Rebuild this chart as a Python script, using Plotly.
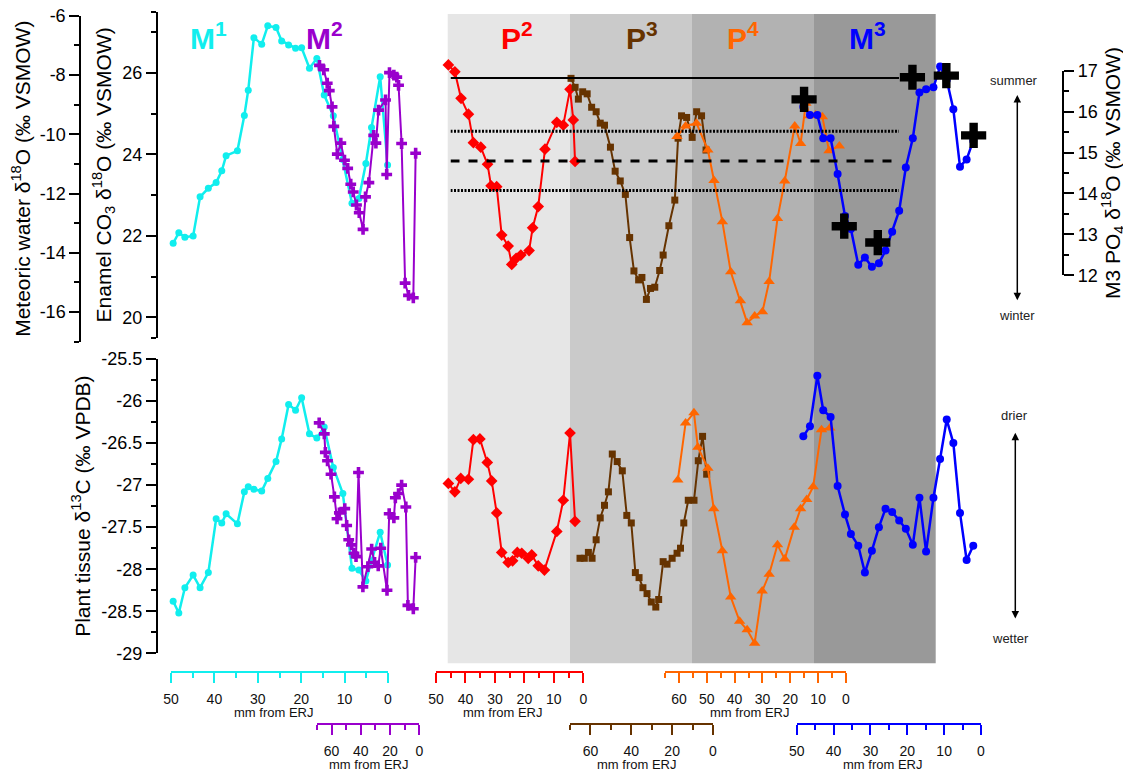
import plotly.graph_objects as go

# ---------------- data ----------------
m1_mm = [49.5, 48.2, 46.8, 44.9, 43.3, 41.4, 39.6, 38.3, 37.3, 34.7, 33.1, 32.2, 30.9, 29.1, 27.7, 25.8,
         24.5, 22.9, 21.3, 19.9, 18.1, 16.4, 14.7, 12.6, 10.4, 8.3, 6.7, 5.1, 3.8, 1.8, 0.1]
m1_d18o = [21.82, 22.08, 21.97, 22.00, 22.96, 23.17, 23.31, 23.60, 23.97, 24.09, 24.96, 25.58, 26.87, 26.71,
           27.16, 27.12, 26.79, 26.69, 26.61, 26.62, 26.12, 26.36, 25.46, 24.95, 23.88, 22.80, 22.92, 23.78,
           24.66, 25.91, 23.74]
m1_d13c = [-28.38, -28.52, -28.22, -28.07, -28.22, -28.04, -27.40, -27.45, -27.34, -27.46, -27.08, -27.02,
           -27.05, -27.07, -26.92, -26.72, -26.45, -26.04, -26.11, -25.96, -26.39, -26.44, -26.31, -26.79,
           -27.10, -27.99, -28.01, -28.14, -27.90, -27.56, -27.95]

m2_mm_o = [68.3, 65.4, 63.0, 61.6, 59.7, 58.5, 56.1, 53.7, 51.2, 49.0, 46.9, 45.2, 43.0, 41.1, 38.5, 36.8,
           34.5, 31.2, 29.7, 27.9, 23.1, 22.3, 20.4, 17.4, 15.4, 14.2, 12.1, 9.7, 7.4, 4.1, 2.5]
m2_d18o = [26.19, 26.08, 25.75, 25.57, 25.17, 24.69, 24.01, 24.28, 23.86, 23.66, 23.27, 23.08, 22.76, 22.57,
           22.16, 22.96, 23.31, 24.47, 24.28, 25.09, 25.34, 23.51, 26.01, 25.95, 25.90, 25.70, 24.27, 20.84,
           20.54, 20.48, 24.03]
m2_mm_c = [68.5, 65.0, 64.3, 62.8, 60.4, 58.1, 56.3, 54.7, 51.0, 49.7, 48.3, 46.4, 44.7, 43.3, 41.6, 38.6,
           35.2, 32.6, 30.6, 28.1, 26.4, 22.1, 20.6, 17.4, 16.4, 14.2, 12.1, 9.2, 7.8, 4.1, 2.5]
m2_d13c = [-26.26, -26.39, -26.61, -26.71, -26.87, -27.14, -27.40, -27.33, -27.28, -27.48, -27.65, -27.71,
           -27.81, -27.85, -26.85, -28.21, -27.97, -27.76, -27.92, -27.96, -27.75, -28.25, -27.34, -27.39,
           -27.15, -27.10, -27.00, -27.26, -28.43, -28.47, -27.86]

p2_mm_o = [45.8, 43.6, 41.5, 39.0, 37.3, 34.8, 32.5, 31.3, 29.4, 27.7, 25.5, 24.3, 22.8, 21.2, 18.4, 17.2,
           15.3, 13.0, 9.0, 6.8, 4.5, 3.4, 2.8]
p2_d18o = [26.20, 26.03, 25.38, 24.99, 24.29, 24.18, 23.76, 23.23, 23.21, 22.02, 21.75, 21.30, 21.45, 21.53,
           21.64, 22.20, 22.72, 24.13, 24.79, 24.72, 25.60, 24.85, 23.83]
p2_mm_c = [45.8, 43.6, 41.6, 39.0, 37.3, 35.1, 32.6, 31.1, 29.4, 27.7, 25.5, 24.0, 22.4, 20.9, 18.7, 17.5,
           15.3, 13.2, 9.0, 6.8, 4.5, 2.8]
p2_d13c = [-26.98, -27.08, -26.92, -26.93, -26.46, -26.45, -26.73, -26.95, -27.33, -27.80, -27.92, -27.90,
           -27.80, -27.81, -27.87, -27.83, -27.96, -28.01, -27.55, -27.18, -26.38, -27.43]

p3_mm_o = [69.5, 67.5, 65.9, 63.8, 61.6, 59.4, 57.2, 55.2, 53.1, 50.2, 47.9, 45.4, 42.9, 40.8, 38.7, 36.4,
           34.8, 32.6, 30.6, 28.5, 26.1, 24.4, 21.6, 18.7, 17.1, 15.4, 12.9, 10.2, 8.0, 5.6, 3.4]
p3_d18o = [25.87, 25.65, 25.36, 25.54, 25.49, 25.16, 25.05, 24.77, 24.72, 24.18, 23.59, 23.35, 23.02, 21.96,
           21.14, 20.92, 20.98, 20.44, 20.71, 20.74, 21.15, 21.53, 22.25, 22.88, 24.40, 24.95, 24.91, 24.42,
           25.05, 24.95, 24.11]
p3_mm_c = [65.1, 63.0, 61.0, 59.2, 57.2, 55.2, 53.1, 51.2, 49.3, 46.9, 44.4, 42.2, 40.0, 38.0, 36.2, 34.3,
           32.3, 30.2, 28.0, 26.6, 24.4, 22.5, 20.0, 17.6, 15.9, 14.3, 12.1, 9.3, 7.2, 5.1, 3.1]
p3_d13c = [-27.87, -27.87, -27.80, -27.87, -27.65, -27.39, -27.24, -27.08, -26.63, -26.72, -26.83, -27.36,
           -27.45, -28.04, -28.10, -28.22, -28.29, -28.39, -28.45, -28.36, -27.91, -27.94, -27.87, -27.81,
           -27.75, -27.45, -27.18, -27.18, -26.71, -26.42, -26.87]

p4_mm_o = [60.7, 57.6, 53.7, 49.6, 47.4, 44.4, 41.4, 37.9, 35.5, 32.8, 30.0, 27.6, 24.6, 22.0, 18.4, 16.3,
           14.4, 13.0, 10.9, 8.5, 6.1, 2.4]
p4_d18o = [24.44, 24.70, 24.77, 24.11, 23.36, 22.35, 21.12, 20.41, 19.87, 20.03, 20.14, 20.88, 22.43, 23.35,
           24.70, 24.27, 25.26, 24.95, 24.97, 24.93, 24.09, 24.21]
p4_mm_c = [60.4, 57.6, 54.6, 53.2, 49.6, 47.5, 44.4, 41.4, 38.2, 35.5, 32.8, 30.1, 27.6, 24.6, 22.0, 18.6,
           16.3, 14.1, 11.8, 8.8, 5.8]
p4_d13c = [-26.94, -26.26, -26.14, -26.55, -26.80, -27.28, -27.78, -28.33, -28.62, -28.72, -28.88, -28.26,
           -28.06, -27.71, -27.88, -27.50, -27.28, -27.17, -27.02, -26.34, -26.32]

m3_mm = [48.2, 46.4, 44.4, 42.8, 40.8, 38.9, 36.9, 35.3, 33.3, 31.5, 29.6, 27.7, 25.9, 24.1, 22.2, 20.4,
         18.5, 16.7, 14.9, 12.9, 11.1, 9.3, 7.5, 5.7, 3.9, 2.1]
m3_d18o = [25.17, 24.97, 24.97, 24.40, 24.40, 23.52, 22.49, 22.17, 21.29, 21.47, 21.24, 21.33, 21.64, 22.10,
           22.62, 23.68, 24.40, 25.52, 25.60, 25.65, 26.16, 25.83, 25.11, 23.70, 23.88, 24.34]
m3_d13c = [-26.42, -26.30, -25.70, -26.11, -26.19, -27.01, -27.35, -27.58, -27.72, -28.04, -27.78, -27.50,
           -27.28, -27.32, -27.42, -27.52, -27.71, -27.15, -27.79, -27.15, -26.69, -26.22, -26.50, -27.33,
           -27.89, -27.72]

m3_po4_mm = [48.0, 37.1, 28.0, 18.6, 9.4, 2.0]
m3_po4_d18o = [16.30, 13.20, 12.80, 16.84, 16.88, 15.42]

# meteoric-water reference levels (summer, +1 sd, mean, -1 sd)
ref_levels = [-8.1, -9.9, -10.9, -11.9]
ref_styles = ["solid", "2px,1.5px", "dash", "2px,1.5px"]

tooth_labels = ["M<sup>1</sup>", "M<sup>2</sup>", "P<sup>2</sup>", "P<sup>3</sup>", "P<sup>4</sup>", "M<sup>3</sup>"]
x_title = "mm from ERJ"

met_ticks = [-16, -14, -12, -10, -8, -6]
c13_ticks = [-29, -28.5, -28, -27.5, -27, -26.5, -26, -25.5]

# ---------------- layout helpers ----------------
# the page body has an 8 px margin: the figure is sized so it ends at the window edge,
# and all target pixel positions are converted with that offset.
OFF = 8
W, H = 1131 - OFF, 769 - OFF
FONT = "Liberation Sans, Arial, sans-serif"


def fx(x):
    return (x - OFF) / W


def fy(y):
    return 1 - (y - OFF) / H


CYAN, PURPLE, RED, BROWN, ORANGE, BLUE = "#11EEEE", "#9900CC", "#FF0000", "#663300", "#FF6600", "#0000FF"

fig = go.Figure()

xaxes = {
    "x":  dict(color=CYAN,   l=171.0, r=388.0, mx=50, dt=10, mdt=5,  yp=672, tx=273.0),
    "x2": dict(color=PURPLE, l=317.0, r=419.3, mx=70, dt=20, mdt=10, yp=724, tx=369.0),
    "x3": dict(color=RED,    l=436.0, r=583.3, mx=50, dt=10, mdt=5,  yp=672, tx=502.7),
    "x4": dict(color=BROWN,  l=570.0, r=713.0, mx=70, dt=20, mdt=10, yp=724, tx=636.0),
    "x5": dict(color=ORANGE, l=665.0, r=846.0, mx=65, dt=10, mdt=5,  yp=672, tx=749.0),
    "x6": dict(color=BLUE,   l=796.7, r=981.0, mx=50, dt=10, mdt=5,  yp=724, tx=882.5),
}

band_edges = [447.7, 570, 692, 814, 935.7]
band_cols = ["#E6E6E6", "#CACACA", "#B2B2B2", "#999999"]
shapes = []
for i, col in enumerate(band_cols):
    shapes.append(dict(type="rect", xref="paper", yref="paper", x0=fx(band_edges[i]), x1=fx(band_edges[i + 1]),
                       y0=fy(663.3), y1=fy(14), fillcolor=col, line=dict(width=0), layer="below"))

for lvl, st in zip(ref_levels, ref_styles):
    fig.add_trace(go.Scatter(x=[0, 1], y=[lvl, lvl], xaxis="x7", yaxis="y2", mode="lines",
                             line=dict(color="black", width=3 if st != "solid" else 2, dash=st),
                             hoverinfo="skip"))


def add_series(xs, ys, xa, ya, color, symbol, size, lw=2):
    fig.add_trace(go.Scatter(x=xs, y=ys, xaxis=xa, yaxis=ya, mode="lines+markers",
                             line=dict(color=color, width=lw),
                             marker=dict(symbol=symbol, size=size, color=color, line=dict(width=0)),
                             cliponaxis=False))


fig.add_trace(go.Scatter(x=m3_po4_mm, y=m3_po4_d18o, xaxis="x6", yaxis="y4", mode="markers",
                         marker=dict(symbol="cross", size=21, color="black"), cliponaxis=False))

add_series(m3_mm, m3_d18o, "x6", "y", BLUE, "circle", 8, 2.5)
add_series(m3_mm, m3_d13c, "x6", "y3", BLUE, "circle", 8, 2.5)
add_series(p4_mm_o, p4_d18o, "x5", "y", ORANGE, "triangle-up", 10)
add_series(p4_mm_c, p4_d13c, "x5", "y3", ORANGE, "triangle-up", 10)
add_series(p3_mm_o, p3_d18o, "x4", "y", BROWN, "square", 7)
add_series(p3_mm_c, p3_d13c, "x4", "y3", BROWN, "square", 7)
add_series(p2_mm_o, p2_d18o, "x3", "y", RED, "diamond", 9)
add_series(p2_mm_c, p2_d13c, "x3", "y3", RED, "diamond", 9)
add_series(m2_mm_o, m2_d18o, "x2", "y", PURPLE, "cross", 9)
add_series(m2_mm_c, m2_d13c, "x2", "y3", PURPLE, "cross", 9)
add_series(m1_mm, m1_d18o, "x", "y", CYAN, "circle", 7, 2.5)
add_series(m1_mm, m1_d13c, "x", "y3", CYAN, "circle", 7, 2.5)

layout = dict(
    template="none",
    width=W, height=H, margin=dict(l=0, r=0, t=0, b=0, pad=0, autoexpand=False),
    paper_bgcolor="white", plot_bgcolor="rgba(0,0,0,0)", showlegend=False,
    font=dict(family=FONT, size=18, color="black"), shapes=shapes,
)

annotations = []

for key, a in xaxes.items():
    name = "xaxis" if key == "x" else "xaxis" + key[1:]
    layout[name] = dict(
        domain=[fx(a["l"]), fx(a["r"])], range=[a["mx"], 0], anchor="free", position=fy(a["yp"]),
        automargin=False,
        showline=True, linecolor=a["color"], linewidth=2, ticks="outside", tickcolor=a["color"],
        tickwidth=2, ticklen=10, dtick=a["dt"], tick0=0, showgrid=False, zeroline=False,
        tickfont=dict(size=14, color="#111"), ticklabelstandoff=4, ticklabeloverflow="allow",
        minor=dict(dtick=a["mdt"], tick0=0, ticks="outside", ticklen=5, tickcolor=a["color"], tickwidth=2,
                   showgrid=False),
    )
    annotations.append(dict(text=x_title, x=fx(a["tx"]), y=fy(a["yp"] + 40), xref="paper", yref="paper",
                            showarrow=False, font=dict(size=13, color="#111", family=FONT),
                            xanchor="center", yanchor="middle"))

layout["xaxis7"] = dict(domain=[fx(450.5), fx(899)], range=[0, 1], visible=False, anchor="free", position=0.5,
                        automargin=False)

ycommon = dict(anchor="free", automargin=False, showline=True, linecolor="black", linewidth=1.5,
               ticks="outside", tickcolor="black", tickwidth=1.5, ticklen=10, showgrid=False, zeroline=False,
               tickfont=dict(size=18, color="black"), ticklabeloverflow="allow")

layout["yaxis"] = dict(ycommon, domain=[fy(337.7), fy(12)], range=[19.5, 27.5], position=fx(156.7),
                       tickvals=[20, 22, 24, 26],
                       minor=dict(tickvals=[19.5, 21, 23, 25, 27, 27.5], ticks="outside", ticklen=5,
                                  tickcolor="black", tickwidth=1.5, showgrid=False),
                       title=dict(text="Enamel CO<sub>3</sub> δ<sup>18</sup>O (‰ VSMOW)", font=dict(size=21),
                                  standoff=4))
layout["yaxis2"] = dict(ycommon, domain=[fy(341.7), fy(15.7)], range=[-17, -6], position=fx(80),
                        tickvals=met_ticks, ticktext=[str(t) for t in met_ticks],
                        minor=dict(dtick=1, tick0=0, ticks="outside", ticklen=5, tickcolor="black",
                                   tickwidth=1.5, showgrid=False),
                        title=dict(text="Meteoric water δ<sup>18</sup>O (‰ VSMOW)", font=dict(size=21),
                                   standoff=6))
layout["yaxis3"] = dict(ycommon, domain=[fy(653.3), fy(359)], range=[-29, -25.5], position=fx(156.7),
                        tickvals=c13_ticks, ticktext=[("%g" % t) for t in c13_ticks],
                        minor=dict(dtick=0.25, tick0=0, ticks="outside", ticklen=5, tickcolor="black",
                                   tickwidth=1.5, showgrid=False),
                        title=dict(text="Plant tissue δ<sup>13</sup>C (‰ VPDB)", font=dict(size=21),
                                   standoff=4))
layout["yaxis4"] = dict(ycommon, domain=[fy(275.3), fy(70.7)], range=[12, 17], position=fx(1063.3),
                        side="right", dtick=1,
                        minor=dict(dtick=0.5, tick0=0, ticks="outside", ticklen=5, tickcolor="black",
                                   tickwidth=1.5, showgrid=False),
                        title=dict(text="M3 PO<sub>4</sub> δ<sup>18</sup>O (‰ VSMOW)", font=dict(size=21),
                                   standoff=4))

label_pos = [(208, CYAN), (324, PURPLE), (517, RED), (641.5, BROWN), (743, ORANGE), (867, BLUE)]
for txt, (xp, col) in zip(tooth_labels, label_pos):
    annotations.append(dict(text="<b>" + txt + "</b>", x=fx(xp), y=fy(36), xref="paper", yref="paper",
                            showarrow=False, font=dict(size=30, color=col, family=FONT),
                            xanchor="center", yanchor="middle"))

for txt, xp, yp in [("summer", 1014, 80.7), ("winter", 1016.7, 315), ("drier", 1014.3, 415),
                    ("wetter", 1010, 638.3)]:
    annotations.append(dict(text=txt, x=fx(xp), y=fy(yp), xref="paper", yref="paper", showarrow=False,
                            font=dict(size=13, color="#222", family=FONT), xanchor="center", yanchor="middle"))

for xp, y_top, y_bot in [(1017.3, 95, 301.7), (1015.3, 432.7, 620)]:
    annotations.append(dict(text="", x=fx(xp), y=fy(y_top), xref="paper", yref="paper", showarrow=True,
                            ax=0, ay=y_bot - y_top, axref="pixel", ayref="pixel", arrowside="end+start",
                            arrowhead=2, startarrowhead=2, arrowsize=1, startarrowsize=1, arrowwidth=1.5,
                            arrowcolor="black"))

layout["annotations"] = annotations
fig.update_layout(**layout)
fig.write_html("out.html")
